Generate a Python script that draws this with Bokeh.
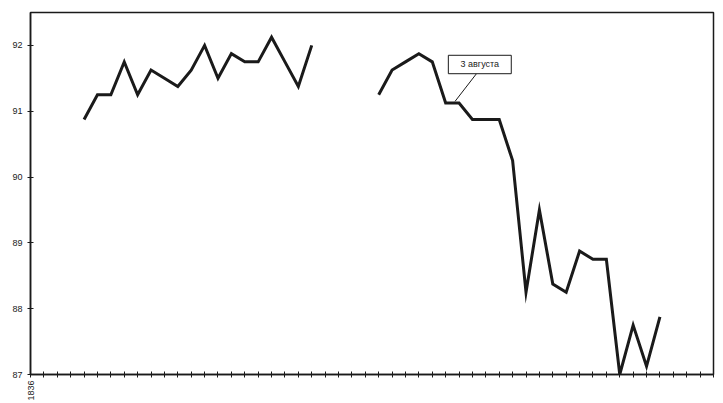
import math
from bokeh.plotting import figure
from bokeh.models import Range1d, FixedTicker
from bokeh.core.properties import value
from bokeh.embed import file_html
from bokeh.resources import INLINE

# --- data -------------------------------------------------------------
# week index within 1836 (0 = start of year) and price
weeks_a = list(range(4, 22))
prices_a = [90.875, 91.25, 91.25, 91.75, 91.25, 91.625, 91.5, 91.375, 91.625,
            92.0, 91.5, 91.875, 91.75, 91.75, 92.125, 91.75, 91.375, 92.0]

weeks_b = list(range(26, 48))
prices_b = [91.25, 91.625, 91.75, 91.875, 91.75, 91.125, 91.125, 90.875, 90.875,
            90.875, 90.25, 88.25, 89.5, 88.375, 88.25, 88.875, 88.75, 88.75,
            87.0, 87.75, 87.125, 87.875]

x_ticks = list(range(0, 52))
x_tick_labels = {0: "1836"}
y_ticks = [87, 88, 89, 90, 91, 92]

annotation_text = "3 августа"
annotation_week = 31.7      # point the leader line touches
annotation_price = 91.15

# --- styling / layout ---------------------------------------------------
FONT = "Liberation Sans"
INK = "#1a1a1a"

p = figure(width=723, height=403, output_backend="svg", toolbar_location=None,
           x_range=Range1d(0, 51), y_range=Range1d(87, 92.5),
           min_border_left=30, min_border_right=10, min_border_top=12,
           min_border_bottom=28)
p.background_fill_color = "white"
p.border_fill_color = "white"
p.outline_line_color = INK
p.outline_line_width = 1.5
p.xgrid.visible = False
p.ygrid.visible = False

# y axis
p.yaxis.ticker = FixedTicker(ticks=y_ticks)
p.yaxis.major_tick_in = 3
p.yaxis.major_tick_out = 3
p.yaxis.minor_tick_line_color = None
p.yaxis.major_label_standoff = 5
p.yaxis.major_label_text_font = FONT
p.yaxis.major_label_text_font_size = "9px"
p.yaxis.major_label_text_color = INK
p.yaxis.axis_line_color = INK
p.yaxis.axis_line_width = 1.5
p.yaxis.major_tick_line_color = INK

# x axis
labels = {t: x_tick_labels.get(t, "") for t in x_ticks}
p.xaxis.ticker = FixedTicker(ticks=x_ticks)
p.xaxis.major_label_overrides = labels
p.xaxis.major_label_orientation = math.pi / 2
p.xaxis.major_tick_in = 3
p.xaxis.major_tick_out = 3
p.xaxis.minor_tick_line_color = None
p.xaxis.major_label_standoff = 3
p.xaxis.major_label_text_font = FONT
p.xaxis.major_label_text_font_size = "9px"
p.xaxis.major_label_text_color = INK
p.xaxis.axis_line_color = INK
p.xaxis.axis_line_width = 1.5
p.xaxis.major_tick_line_color = INK

# lines
p.line(weeks_a, prices_a, line_color=INK, line_width=3, line_join="miter")
p.line(weeks_b, prices_b, line_color=INK, line_width=3, line_join="miter")

# annotation callout
box_left, box_right = 31.2, 35.9
box_bottom, box_top = 91.57, 91.85
p.segment(x0=[annotation_week], y0=[annotation_price],
          x1=[33.3], y1=[box_bottom], line_color=INK, line_width=1)
p.quad(left=[box_left], right=[box_right], bottom=[box_bottom], top=[box_top],
       fill_color="white", line_color=INK, line_width=1)
p.text(x=[(box_left + box_right) / 2], y=[(box_bottom + box_top) / 2],
       text=[annotation_text], text_align="center", text_baseline="middle",
       text_font=value(FONT), text_font_size="9px", text_color=INK)

open("out.html", "w").write(file_html(p, INLINE))
